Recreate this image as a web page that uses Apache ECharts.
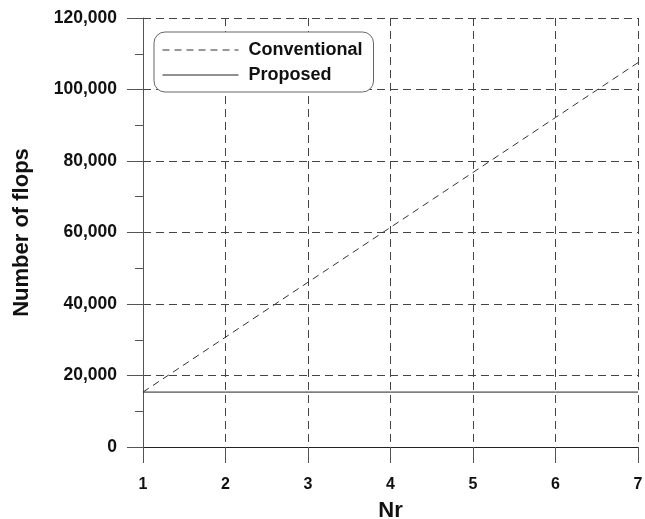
<!DOCTYPE html>
<html>
<head>
<meta charset="utf-8">
<script src="https://cdn.jsdelivr.net/npm/echarts@6/dist/echarts.min.js"></script>
<style>
  html, body { margin: 0; padding: 0; background: #fff; }
  #chart { width: 645px; height: 519px; }
</style>
</head>
<body>
<div id="chart"></div>
<script>
// Number of receive antennas
const nr = [1, 2, 3, 4, 5, 6, 7];
// Flop counts per method
const conventional = [15360, 30720, 46080, 61440, 76800, 92160, 107520];
const proposed = [15360, 15360, 15360, 15360, 15360, 15360, 15360];
const yTicks = [0, 20000, 40000, 60000, 80000, 100000, 120000];

const FONT = '"Liberation Sans", Arial, sans-serif';
const pairs = (xs, ys) => xs.map((x, i) => [x, ys[i]]);

const chart = echarts.init(document.getElementById('chart'), null, { renderer: 'canvas' });
chart.setOption({
  animation: false,
  backgroundColor: '#ffffff',
  grid: { left: 143, right: 7, top: 18, bottom: 72, containLabel: false, outerBoundsMode: 'none' },
  legend: {
    left: 154, top: 32,
    orient: 'vertical',
    padding: [9, 11, 8, 8],
    itemGap: 7,
    itemWidth: 76,
    itemHeight: 14,
    borderColor: '#666',
    borderWidth: 1,
    borderRadius: 11,
    backgroundColor: '#fff',
    itemStyle: { opacity: 0 },
    lineStyle: { width: 1 },
    textStyle: { fontFamily: FONT, fontWeight: 'bold', fontSize: 18, color: '#111', padding: [0, 0, 0, 5] },
    data: ['Conventional', 'Proposed']
  },
  xAxis: {
    type: 'value', min: nr[0], max: nr[nr.length - 1], interval: 1,
    name: 'Nr', nameLocation: 'middle', nameGap: 53,
    nameTextStyle: { fontFamily: FONT, fontWeight: 'bold', fontSize: 22, color: '#111' },
    axisLine: { show: true, onZero: false, lineStyle: { color: '#222', width: 1 } },
    axisTick: { show: true, inside: false, length: 16, lineStyle: { color: '#555' } },
    axisLabel: { margin: 30, fontFamily: FONT, fontWeight: 'bold', fontSize: 16, color: '#111' },
    splitLine: { show: true, lineStyle: { color: '#444', type: [8, 5], width: 1 } }
  },
  yAxis: {
    type: 'value', min: yTicks[0], max: yTicks[yTicks.length - 1], interval: 20000,
    name: 'Number of flops', nameLocation: 'middle', nameGap: 110, nameRotate: 90,
    nameTextStyle: { fontFamily: FONT, fontWeight: 'bold', fontSize: 22, color: '#111' },
    axisLine: { show: true, lineStyle: { color: '#555', width: 1 } },
    axisTick: { show: true, inside: false, length: 16, lineStyle: { color: '#555' } },
    minorTick: { show: true, splitNumber: 2, length: 8, lineStyle: { color: '#555' } },
    axisLabel: {
      margin: 26, fontFamily: FONT, fontWeight: 'bold', fontSize: 17.5, color: '#111',
      formatter: v => v.toLocaleString('en-US')
    },
    splitLine: { show: true, lineStyle: { color: '#444', type: [8, 5], width: 1 } }
  },
  series: [
    {
      name: 'Conventional', type: 'line', data: pairs(nr, conventional),
      symbol: 'none', silent: true,
      lineStyle: { color: '#333', width: 1, type: [7, 5] },
      itemStyle: { color: '#333' }
    },
    {
      name: 'Proposed', type: 'line', data: pairs(nr, proposed),
      symbol: 'none', silent: true,
      lineStyle: { color: '#222', width: 1, type: 'solid' },
      itemStyle: { color: '#222' }
    }
  ]
});
</script>
</body>
</html>
